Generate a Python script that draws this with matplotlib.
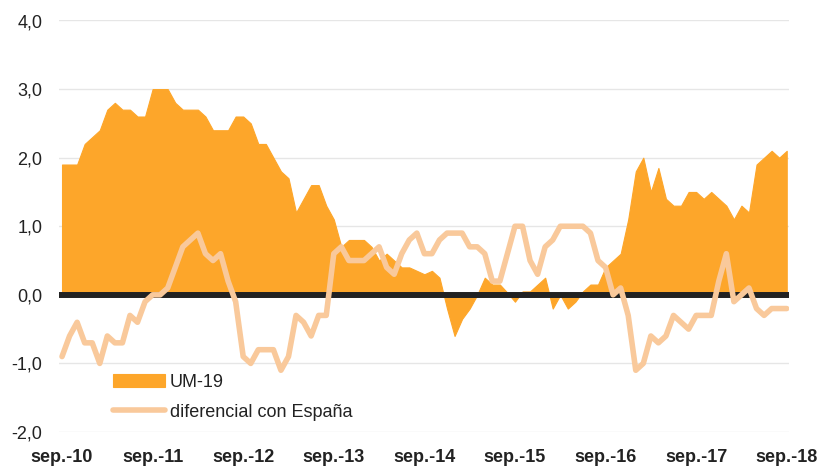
import matplotlib
matplotlib.use("Agg")
import matplotlib.pyplot as plt
import numpy as np

tick_labels = ["sep.-10", "sep.-11", "sep.-12", "sep.-13", "sep.-14",
               "sep.-15", "sep.-16", "sep.-17", "sep.-18"]

um19 = [1.9, 1.9, 1.9, 2.2, 2.3, 2.4, 2.7, 2.8, 2.7, 2.7, 2.6, 2.6,
        3.0, 3.0, 3.0, 2.8, 2.7, 2.7, 2.7, 2.6, 2.4, 2.4, 2.4, 2.6,
        2.6, 2.5, 2.2, 2.2, 2.0, 1.8, 1.7, 1.2, 1.4, 1.6, 1.6, 1.3,
        1.1, 0.7, 0.8, 0.8, 0.8, 0.7, 0.5, 0.6, 0.5, 0.4, 0.4, 0.35,
        0.3, 0.35, 0.25, -0.2, -0.6, -0.35, -0.2, 0.0, 0.25, 0.15, 0.15, 0.03,
        -0.1, 0.05, 0.05, 0.15, 0.25, -0.2, 0.0, -0.2, -0.1, 0.05, 0.15, 0.15,
        0.4, 0.5, 0.6, 1.1, 1.8, 2.0, 1.5, 1.85, 1.4, 1.3, 1.3, 1.5,
        1.5, 1.4, 1.5, 1.4, 1.3, 1.1, 1.3, 1.2, 1.9, 2.0, 2.1, 2.0,
        2.1]

diferencial = [-0.9, -0.6, -0.4, -0.7, -0.7, -1.0, -0.6, -0.7, -0.7, -0.3, -0.4, -0.1,
               0.0, 0.0, 0.1, 0.4, 0.7, 0.8, 0.9, 0.6, 0.5, 0.6, 0.2, -0.1,
               -0.9, -1.0, -0.8, -0.8, -0.8, -1.1, -0.9, -0.3, -0.4, -0.6, -0.3, -0.3,
               0.6, 0.7, 0.5, 0.5, 0.5, 0.6, 0.7, 0.4, 0.3, 0.6, 0.8, 0.9,
               0.6, 0.6, 0.8, 0.9, 0.9, 0.9, 0.7, 0.7, 0.6, 0.2, 0.2, 0.6,
               1.0, 1.0, 0.5, 0.3, 0.7, 0.8, 1.0, 1.0, 1.0, 1.0, 0.9, 0.5,
               0.4, 0.0, 0.1, -0.3, -1.1, -1.0, -0.6, -0.7, -0.6, -0.3, -0.4, -0.5,
               -0.3, -0.3, -0.3, 0.2, 0.6, -0.1, 0.0, 0.1, -0.2, -0.3, -0.2, -0.2,
               -0.2]

yticks = [-2, -1, 0, 1, 2, 3, 4]
ytick_labels = ["-2,0", "-1,0", "0,0", "1,0", "2,0", "3,0", "4,0"]

x = np.arange(len(um19))

fig = plt.figure(figsize=(8.19, 4.69), dpi=100)
ax = fig.add_axes([59/819, 1-432/469, (789-59)/819, (432-20.5)/469])

area_color = "#FDA62A"
line_color = "#F9C99B"

ax.fill_between(x, 0, um19, color=area_color, linewidth=0.8, edgecolor=area_color,
                zorder=2, label="UM-19")
ax.axhline(0, color="#222222", linewidth=4.3, zorder=3)
ax.plot(x, diferencial, color=line_color, linewidth=4.0, solid_joinstyle="round",
        solid_capstyle="round", zorder=4, label="diferencial con España")

ax.set_xlim(-0.4, 96.3)
ax.set_ylim(-2, 4)
ax.set_yticks(yticks)
ax.set_yticklabels(ytick_labels)
ax.set_xticks(np.arange(0, 97, 12))
ax.set_xticklabels(tick_labels)

for s in ax.spines.values():
    s.set_visible(False)
ax.tick_params(axis="both", length=0)
ax.tick_params(axis="y", pad=12, labelsize=13, labelcolor="#222222")
ax.tick_params(axis="x", pad=12, labelsize=13, labelcolor="#222222")
for lbl in ax.get_yticklabels():
    lbl.set_fontfamily("Liberation Sans")
for lbl in ax.get_xticklabels():
    lbl.set_fontfamily("Liberation Sans")
    lbl.set_fontweight("bold")

ax.yaxis.grid(True, color="#E6E6E6", linewidth=1.0, zorder=0)
ax.set_axisbelow(True)

leg = ax.legend(loc="upper left", bbox_to_anchor=(113/819, 1-374/469),
                bbox_transform=fig.transFigure, frameon=False, borderpad=0,
                borderaxespad=0, handlelength=2.9, handletextpad=0.25,
                labelspacing=0.7,
                prop={"family": "Liberation Sans", "size": 13})
for t in leg.get_texts():
    t.set_color("#222222")

fig.savefig("out.png", dpi=100)
